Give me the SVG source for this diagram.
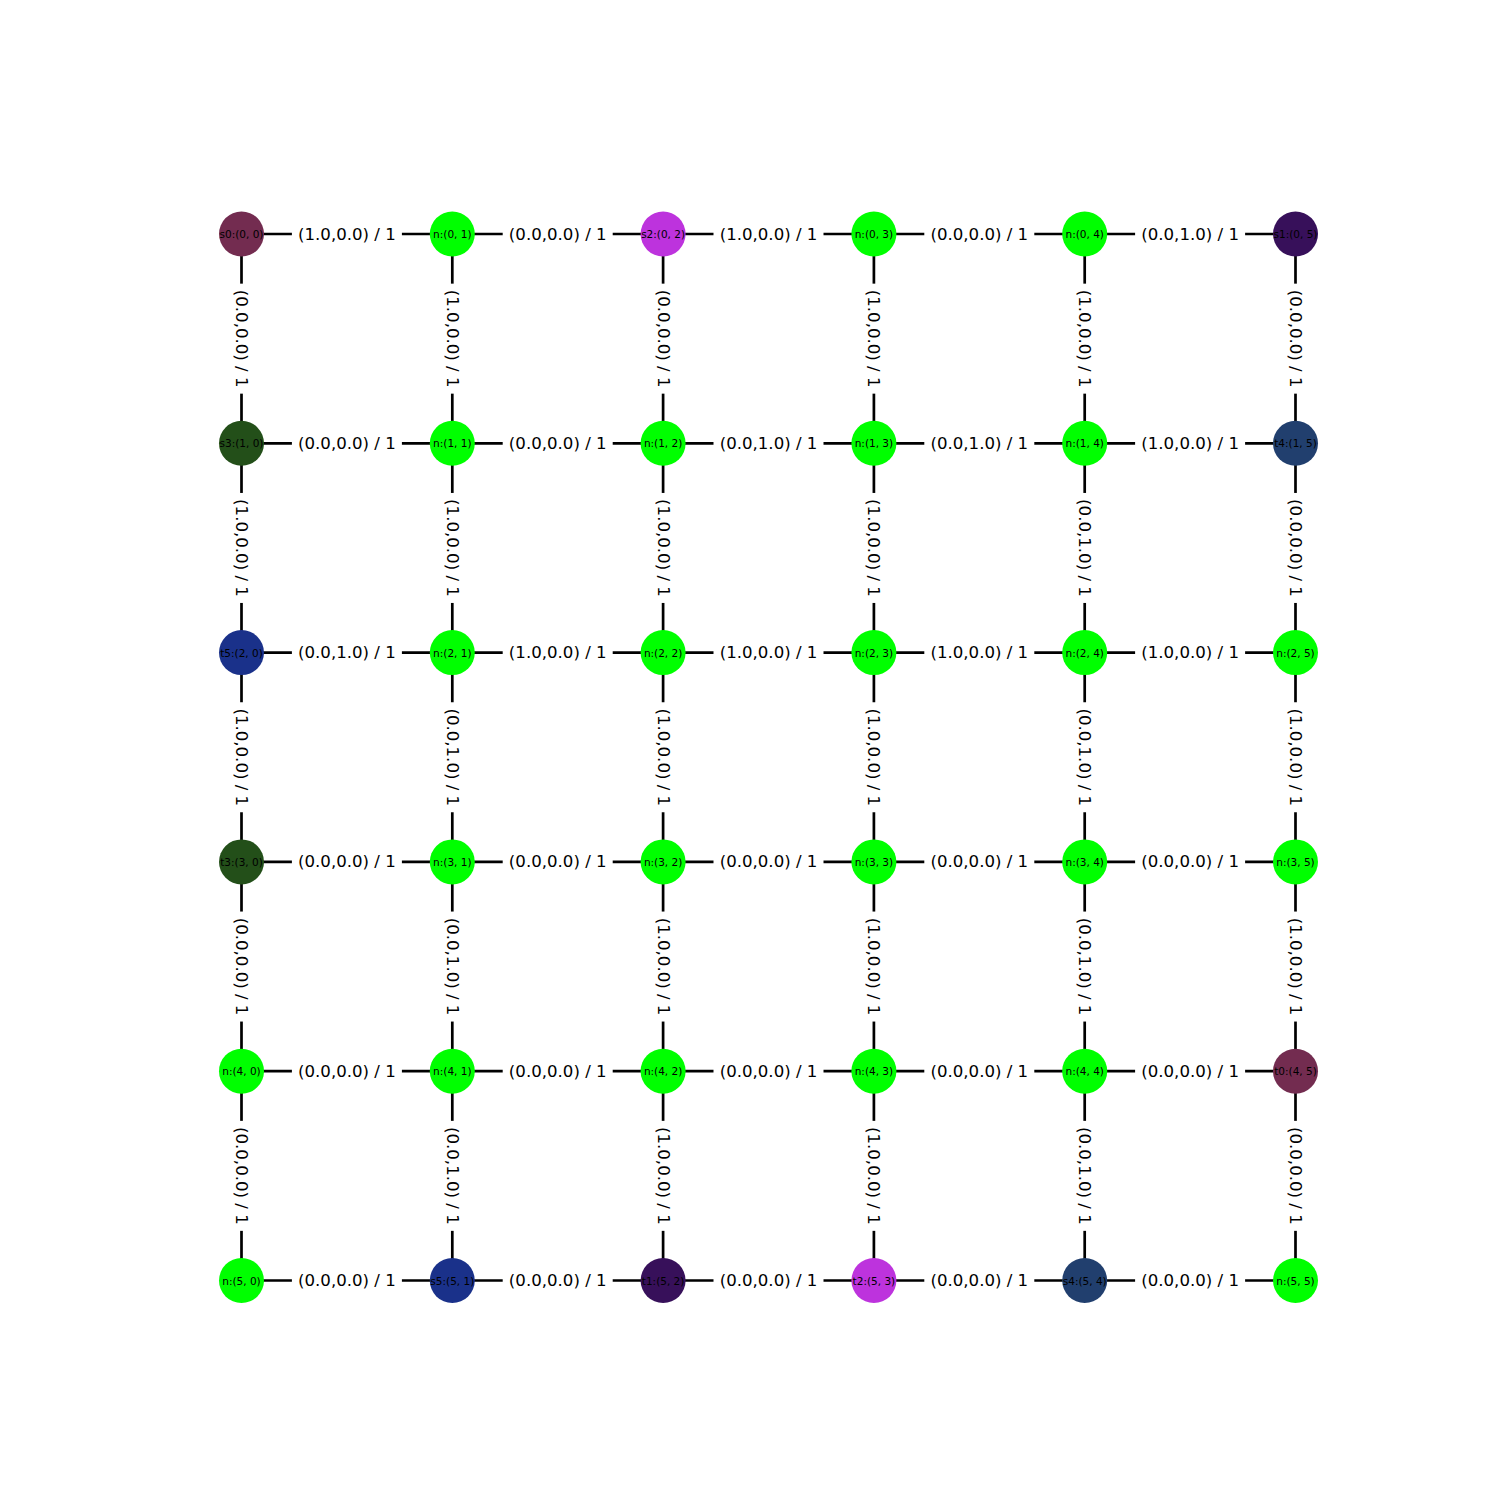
<svg xmlns="http://www.w3.org/2000/svg" width="1500" height="1500" viewBox="0 0 1500 1500">
<style>
.e{stroke:#000;stroke-width:2.7;fill:none}
.lb{fill:#fff}
.lt{font-family:"DejaVu Sans",sans-serif;font-size:16.6px;fill:#000;text-anchor:middle;dominant-baseline:central}
.nt{font-family:"DejaVu Sans",sans-serif;font-size:10.5px;fill:#000;text-anchor:middle;dominant-baseline:central}
.g{fill:#00ff00}.m{fill:#732c50}.p{fill:#bd33dd}.d{fill:#37105a}.f{fill:#234f19}.b{fill:#1a318a}.v{fill:#213f6e}
</style>
<rect width="1500" height="1500" fill="#fff"/>
<g id="connectors">
<path class="e" d="M241.5 234H1295.5M241.5 443.3H1295.5M241.5 652.6H1295.5M241.5 861.9H1295.5M241.5 1071.2H1295.5M241.5 1280.5H1295.5M241.5 234V1280.5M452.3 234V1280.5M663.1 234V1280.5M873.9 234V1280.5M1084.7 234V1280.5M1295.5 234V1280.5"/>
<g id="hlabels">
<g transform="translate(346.9,234)"><rect class="lb" x="-55" y="-12" width="110" height="24"/><text class="lt">(1.0,0.0) / 1</text></g>
<g transform="translate(557.7,234)"><rect class="lb" x="-55" y="-12" width="110" height="24"/><text class="lt">(0.0,0.0) / 1</text></g>
<g transform="translate(768.5,234)"><rect class="lb" x="-55" y="-12" width="110" height="24"/><text class="lt">(1.0,0.0) / 1</text></g>
<g transform="translate(979.3,234)"><rect class="lb" x="-55" y="-12" width="110" height="24"/><text class="lt">(0.0,0.0) / 1</text></g>
<g transform="translate(1190.1,234)"><rect class="lb" x="-55" y="-12" width="110" height="24"/><text class="lt">(0.0,1.0) / 1</text></g>
<g transform="translate(346.9,443.3)"><rect class="lb" x="-55" y="-12" width="110" height="24"/><text class="lt">(0.0,0.0) / 1</text></g>
<g transform="translate(557.7,443.3)"><rect class="lb" x="-55" y="-12" width="110" height="24"/><text class="lt">(0.0,0.0) / 1</text></g>
<g transform="translate(768.5,443.3)"><rect class="lb" x="-55" y="-12" width="110" height="24"/><text class="lt">(0.0,1.0) / 1</text></g>
<g transform="translate(979.3,443.3)"><rect class="lb" x="-55" y="-12" width="110" height="24"/><text class="lt">(0.0,1.0) / 1</text></g>
<g transform="translate(1190.1,443.3)"><rect class="lb" x="-55" y="-12" width="110" height="24"/><text class="lt">(1.0,0.0) / 1</text></g>
<g transform="translate(346.9,652.6)"><rect class="lb" x="-55" y="-12" width="110" height="24"/><text class="lt">(0.0,1.0) / 1</text></g>
<g transform="translate(557.7,652.6)"><rect class="lb" x="-55" y="-12" width="110" height="24"/><text class="lt">(1.0,0.0) / 1</text></g>
<g transform="translate(768.5,652.6)"><rect class="lb" x="-55" y="-12" width="110" height="24"/><text class="lt">(1.0,0.0) / 1</text></g>
<g transform="translate(979.3,652.6)"><rect class="lb" x="-55" y="-12" width="110" height="24"/><text class="lt">(1.0,0.0) / 1</text></g>
<g transform="translate(1190.1,652.6)"><rect class="lb" x="-55" y="-12" width="110" height="24"/><text class="lt">(1.0,0.0) / 1</text></g>
<g transform="translate(346.9,861.9)"><rect class="lb" x="-55" y="-12" width="110" height="24"/><text class="lt">(0.0,0.0) / 1</text></g>
<g transform="translate(557.7,861.9)"><rect class="lb" x="-55" y="-12" width="110" height="24"/><text class="lt">(0.0,0.0) / 1</text></g>
<g transform="translate(768.5,861.9)"><rect class="lb" x="-55" y="-12" width="110" height="24"/><text class="lt">(0.0,0.0) / 1</text></g>
<g transform="translate(979.3,861.9)"><rect class="lb" x="-55" y="-12" width="110" height="24"/><text class="lt">(0.0,0.0) / 1</text></g>
<g transform="translate(1190.1,861.9)"><rect class="lb" x="-55" y="-12" width="110" height="24"/><text class="lt">(0.0,0.0) / 1</text></g>
<g transform="translate(346.9,1071.2)"><rect class="lb" x="-55" y="-12" width="110" height="24"/><text class="lt">(0.0,0.0) / 1</text></g>
<g transform="translate(557.7,1071.2)"><rect class="lb" x="-55" y="-12" width="110" height="24"/><text class="lt">(0.0,0.0) / 1</text></g>
<g transform="translate(768.5,1071.2)"><rect class="lb" x="-55" y="-12" width="110" height="24"/><text class="lt">(0.0,0.0) / 1</text></g>
<g transform="translate(979.3,1071.2)"><rect class="lb" x="-55" y="-12" width="110" height="24"/><text class="lt">(0.0,0.0) / 1</text></g>
<g transform="translate(1190.1,1071.2)"><rect class="lb" x="-55" y="-12" width="110" height="24"/><text class="lt">(0.0,0.0) / 1</text></g>
<g transform="translate(346.9,1280.5)"><rect class="lb" x="-55" y="-12" width="110" height="24"/><text class="lt">(0.0,0.0) / 1</text></g>
<g transform="translate(557.7,1280.5)"><rect class="lb" x="-55" y="-12" width="110" height="24"/><text class="lt">(0.0,0.0) / 1</text></g>
<g transform="translate(768.5,1280.5)"><rect class="lb" x="-55" y="-12" width="110" height="24"/><text class="lt">(0.0,0.0) / 1</text></g>
<g transform="translate(979.3,1280.5)"><rect class="lb" x="-55" y="-12" width="110" height="24"/><text class="lt">(0.0,0.0) / 1</text></g>
<g transform="translate(1190.1,1280.5)"><rect class="lb" x="-55" y="-12" width="110" height="24"/><text class="lt">(0.0,0.0) / 1</text></g>
</g>
<g id="vlabels">
<g transform="translate(241.5,338.65) rotate(90)"><rect class="lb" x="-55" y="-12" width="110" height="24"/><text class="lt">(0.0,0.0) / 1</text></g>
<g transform="translate(241.5,547.95) rotate(90)"><rect class="lb" x="-55" y="-12" width="110" height="24"/><text class="lt">(1.0,0.0) / 1</text></g>
<g transform="translate(241.5,757.25) rotate(90)"><rect class="lb" x="-55" y="-12" width="110" height="24"/><text class="lt">(1.0,0.0) / 1</text></g>
<g transform="translate(241.5,966.55) rotate(90)"><rect class="lb" x="-55" y="-12" width="110" height="24"/><text class="lt">(0.0,0.0) / 1</text></g>
<g transform="translate(241.5,1175.85) rotate(90)"><rect class="lb" x="-55" y="-12" width="110" height="24"/><text class="lt">(0.0,0.0) / 1</text></g>
<g transform="translate(452.3,338.65) rotate(90)"><rect class="lb" x="-55" y="-12" width="110" height="24"/><text class="lt">(1.0,0.0) / 1</text></g>
<g transform="translate(452.3,547.95) rotate(90)"><rect class="lb" x="-55" y="-12" width="110" height="24"/><text class="lt">(1.0,0.0) / 1</text></g>
<g transform="translate(452.3,757.25) rotate(90)"><rect class="lb" x="-55" y="-12" width="110" height="24"/><text class="lt">(0.0,1.0) / 1</text></g>
<g transform="translate(452.3,966.55) rotate(90)"><rect class="lb" x="-55" y="-12" width="110" height="24"/><text class="lt">(0.0,1.0) / 1</text></g>
<g transform="translate(452.3,1175.85) rotate(90)"><rect class="lb" x="-55" y="-12" width="110" height="24"/><text class="lt">(0.0,1.0) / 1</text></g>
<g transform="translate(663.1,338.65) rotate(90)"><rect class="lb" x="-55" y="-12" width="110" height="24"/><text class="lt">(0.0,0.0) / 1</text></g>
<g transform="translate(663.1,547.95) rotate(90)"><rect class="lb" x="-55" y="-12" width="110" height="24"/><text class="lt">(1.0,0.0) / 1</text></g>
<g transform="translate(663.1,757.25) rotate(90)"><rect class="lb" x="-55" y="-12" width="110" height="24"/><text class="lt">(1.0,0.0) / 1</text></g>
<g transform="translate(663.1,966.55) rotate(90)"><rect class="lb" x="-55" y="-12" width="110" height="24"/><text class="lt">(1.0,0.0) / 1</text></g>
<g transform="translate(663.1,1175.85) rotate(90)"><rect class="lb" x="-55" y="-12" width="110" height="24"/><text class="lt">(1.0,0.0) / 1</text></g>
<g transform="translate(873.9,338.65) rotate(90)"><rect class="lb" x="-55" y="-12" width="110" height="24"/><text class="lt">(1.0,0.0) / 1</text></g>
<g transform="translate(873.9,547.95) rotate(90)"><rect class="lb" x="-55" y="-12" width="110" height="24"/><text class="lt">(1.0,0.0) / 1</text></g>
<g transform="translate(873.9,757.25) rotate(90)"><rect class="lb" x="-55" y="-12" width="110" height="24"/><text class="lt">(1.0,0.0) / 1</text></g>
<g transform="translate(873.9,966.55) rotate(90)"><rect class="lb" x="-55" y="-12" width="110" height="24"/><text class="lt">(1.0,0.0) / 1</text></g>
<g transform="translate(873.9,1175.85) rotate(90)"><rect class="lb" x="-55" y="-12" width="110" height="24"/><text class="lt">(1.0,0.0) / 1</text></g>
<g transform="translate(1084.7,338.65) rotate(90)"><rect class="lb" x="-55" y="-12" width="110" height="24"/><text class="lt">(1.0,0.0) / 1</text></g>
<g transform="translate(1084.7,547.95) rotate(90)"><rect class="lb" x="-55" y="-12" width="110" height="24"/><text class="lt">(0.0,1.0) / 1</text></g>
<g transform="translate(1084.7,757.25) rotate(90)"><rect class="lb" x="-55" y="-12" width="110" height="24"/><text class="lt">(0.0,1.0) / 1</text></g>
<g transform="translate(1084.7,966.55) rotate(90)"><rect class="lb" x="-55" y="-12" width="110" height="24"/><text class="lt">(0.0,1.0) / 1</text></g>
<g transform="translate(1084.7,1175.85) rotate(90)"><rect class="lb" x="-55" y="-12" width="110" height="24"/><text class="lt">(0.0,1.0) / 1</text></g>
<g transform="translate(1295.5,338.65) rotate(90)"><rect class="lb" x="-55" y="-12" width="110" height="24"/><text class="lt">(0.0,0.0) / 1</text></g>
<g transform="translate(1295.5,547.95) rotate(90)"><rect class="lb" x="-55" y="-12" width="110" height="24"/><text class="lt">(0.0,0.0) / 1</text></g>
<g transform="translate(1295.5,757.25) rotate(90)"><rect class="lb" x="-55" y="-12" width="110" height="24"/><text class="lt">(1.0,0.0) / 1</text></g>
<g transform="translate(1295.5,966.55) rotate(90)"><rect class="lb" x="-55" y="-12" width="110" height="24"/><text class="lt">(1.0,0.0) / 1</text></g>
<g transform="translate(1295.5,1175.85) rotate(90)"><rect class="lb" x="-55" y="-12" width="110" height="24"/><text class="lt">(0.0,0.0) / 1</text></g>
</g>
</g>
<g id="nodes">
<g id="n00" transform="translate(241.5,234)"><circle class="m" r="22.5"/><text class="nt">s0:(0, 0)</text></g>
<g id="n01" transform="translate(452.3,234)"><circle class="g" r="22.5"/><text class="nt">n:(0, 1)</text></g>
<g id="n02" transform="translate(663.1,234)"><circle class="p" r="22.5"/><text class="nt">s2:(0, 2)</text></g>
<g id="n03" transform="translate(873.9,234)"><circle class="g" r="22.5"/><text class="nt">n:(0, 3)</text></g>
<g id="n04" transform="translate(1084.7,234)"><circle class="g" r="22.5"/><text class="nt">n:(0, 4)</text></g>
<g id="n05" transform="translate(1295.5,234)"><circle class="d" r="22.5"/><text class="nt">s1:(0, 5)</text></g>
<g id="n10" transform="translate(241.5,443.3)"><circle class="f" r="22.5"/><text class="nt">s3:(1, 0)</text></g>
<g id="n11" transform="translate(452.3,443.3)"><circle class="g" r="22.5"/><text class="nt">n:(1, 1)</text></g>
<g id="n12" transform="translate(663.1,443.3)"><circle class="g" r="22.5"/><text class="nt">n:(1, 2)</text></g>
<g id="n13" transform="translate(873.9,443.3)"><circle class="g" r="22.5"/><text class="nt">n:(1, 3)</text></g>
<g id="n14" transform="translate(1084.7,443.3)"><circle class="g" r="22.5"/><text class="nt">n:(1, 4)</text></g>
<g id="n15" transform="translate(1295.5,443.3)"><circle class="v" r="22.5"/><text class="nt">t4:(1, 5)</text></g>
<g id="n20" transform="translate(241.5,652.6)"><circle class="b" r="22.5"/><text class="nt">t5:(2, 0)</text></g>
<g id="n21" transform="translate(452.3,652.6)"><circle class="g" r="22.5"/><text class="nt">n:(2, 1)</text></g>
<g id="n22" transform="translate(663.1,652.6)"><circle class="g" r="22.5"/><text class="nt">n:(2, 2)</text></g>
<g id="n23" transform="translate(873.9,652.6)"><circle class="g" r="22.5"/><text class="nt">n:(2, 3)</text></g>
<g id="n24" transform="translate(1084.7,652.6)"><circle class="g" r="22.5"/><text class="nt">n:(2, 4)</text></g>
<g id="n25" transform="translate(1295.5,652.6)"><circle class="g" r="22.5"/><text class="nt">n:(2, 5)</text></g>
<g id="n30" transform="translate(241.5,861.9)"><circle class="f" r="22.5"/><text class="nt">t3:(3, 0)</text></g>
<g id="n31" transform="translate(452.3,861.9)"><circle class="g" r="22.5"/><text class="nt">n:(3, 1)</text></g>
<g id="n32" transform="translate(663.1,861.9)"><circle class="g" r="22.5"/><text class="nt">n:(3, 2)</text></g>
<g id="n33" transform="translate(873.9,861.9)"><circle class="g" r="22.5"/><text class="nt">n:(3, 3)</text></g>
<g id="n34" transform="translate(1084.7,861.9)"><circle class="g" r="22.5"/><text class="nt">n:(3, 4)</text></g>
<g id="n35" transform="translate(1295.5,861.9)"><circle class="g" r="22.5"/><text class="nt">n:(3, 5)</text></g>
<g id="n40" transform="translate(241.5,1071.2)"><circle class="g" r="22.5"/><text class="nt">n:(4, 0)</text></g>
<g id="n41" transform="translate(452.3,1071.2)"><circle class="g" r="22.5"/><text class="nt">n:(4, 1)</text></g>
<g id="n42" transform="translate(663.1,1071.2)"><circle class="g" r="22.5"/><text class="nt">n:(4, 2)</text></g>
<g id="n43" transform="translate(873.9,1071.2)"><circle class="g" r="22.5"/><text class="nt">n:(4, 3)</text></g>
<g id="n44" transform="translate(1084.7,1071.2)"><circle class="g" r="22.5"/><text class="nt">n:(4, 4)</text></g>
<g id="n45" transform="translate(1295.5,1071.2)"><circle class="m" r="22.5"/><text class="nt">t0:(4, 5)</text></g>
<g id="n50" transform="translate(241.5,1280.5)"><circle class="g" r="22.5"/><text class="nt">n:(5, 0)</text></g>
<g id="n51" transform="translate(452.3,1280.5)"><circle class="b" r="22.5"/><text class="nt">s5:(5, 1)</text></g>
<g id="n52" transform="translate(663.1,1280.5)"><circle class="d" r="22.5"/><text class="nt">t1:(5, 2)</text></g>
<g id="n53" transform="translate(873.9,1280.5)"><circle class="p" r="22.5"/><text class="nt">t2:(5, 3)</text></g>
<g id="n54" transform="translate(1084.7,1280.5)"><circle class="v" r="22.5"/><text class="nt">s4:(5, 4)</text></g>
<g id="n55" transform="translate(1295.5,1280.5)"><circle class="g" r="22.5"/><text class="nt">n:(5, 5)</text></g>
</g>
</svg>
